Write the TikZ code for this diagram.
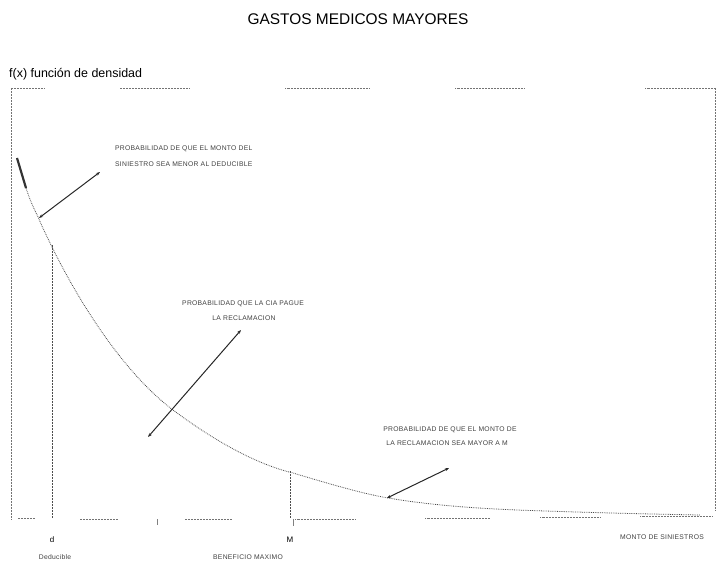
\documentclass[tikz,border=0pt]{standalone}
\usepackage{fontspec}
\setmainfont{Liberation Sans}
\usetikzlibrary{arrows.meta}
\begin{document}
\begin{tikzpicture}[x=1bp,y=-1bp,
  small/.style={font=\fontsize{6.8}{8}\selectfont\addfontfeature{LetterSpace=4}, inner sep=0pt, text=black!75},
  frame/.style={draw=black!55, densely dotted, line width=0.5bp},
  pointer/.style={draw=black!85, line width=1bp, {Stealth[length=4bp,width=3bp]}-{Stealth[length=4bp,width=3bp]}},
  curve/.style={draw=black!70, densely dotted, line width=0.8bp}]
\useasboundingbox (0,0) rectangle (728,561);
% title
\node[font=\fontsize{15.5}{18}\selectfont, inner sep=0pt] (title) at (358,19) {GASTOS MEDICOS MAYORES};
\node[font=\fontsize{12.5}{15}\selectfont, anchor=west, inner sep=0pt] (ylab) at (9,74) {f(x) función de densidad};
% frame
\coordinate (tl) at (11,88);
\coordinate (tr) at (715,88);
\coordinate (br) at (715,510);
\coordinate (bl) at (11,520);
\draw[frame] (11,88) -- (45,88) (120,88) -- (190,88) (285,88) -- (370,88) (455,88) -- (525,88) (645,88) -- (715,88);
\draw[frame] (tr) -- (br);
\draw[frame] (tl) -- (bl);
\draw[frame] (18,518) -- (35,518) (80,519) -- (118,519) (185,519) -- (232,519) (295,519) -- (355,519) (425,518) -- (490,518) (540,517) -- (600,517) (640,516) -- (712,516);
% density curve
\draw[line width=2.2bp, black!80] (17,158) -- (26,188);
\draw[curve] (26,188) .. controls (30,200) .. (38,217)
  .. controls (70,290) and (120,370) .. (173,410)
  .. controls (220,445) and (260,465) .. (293,473)
  .. controls (330,484) and (360,493) .. (388,498)
  .. controls (430,505) and (470,508) .. (517,510)
  .. controls (600,513) and (650,514) .. (700,515);
% vertical lines
\coordinate (dtop) at (52,245);
\coordinate (dbot) at (52,518);
\coordinate (mtop) at (290,471);
\coordinate (mbot) at (290,518);
\draw[frame, draw=black!70] (dtop) -- (dbot);
\draw[frame, draw=black!70] (mtop) -- (mbot);
\draw[black!50, line width=0.5bp] (157,519) -- (157,525) (293,519) -- (293,526);
% pointers
\coordinate (p1a) at (39,218);
\coordinate (p1b) at (100,172);
\coordinate (p2a) at (148,437);
\coordinate (p2b) at (241,330);
\coordinate (p3a) at (387,498);
\coordinate (p3b) at (449,468);
\draw[pointer] (p1a) -- (p1b);
\draw[pointer] (p2a) -- (p2b);
\draw[pointer] (p3a) -- (p3b);
% annotations
\node[small, anchor=west] (t1a) at (115,149) {PROBABILIDAD DE QUE EL MONTO DEL};
\node[small, anchor=west] (t1b) at (115,164) {SINIESTRO SEA MENOR AL DEDUCIBLE};
\node[small] (t2a) at (243,304) {PROBABILIDAD QUE LA CIA PAGUE};
\node[small] (t2b) at (244,318) {LA RECLAMACION};
\node[small] (t3a) at (450,430) {PROBABILIDAD DE QUE EL MONTO DE};
\node[small] (t3b) at (447,443) {LA RECLAMACION SEA MAYOR A M};
% axis labels
\node[font=\fontsize{8}{9}\selectfont, inner sep=0pt] (dlab) at (52,540) {d};
\node[small] (deduc) at (55,557) {Deducible};
\node[font=\fontsize{8}{9}\selectfont, inner sep=0pt] (mlab) at (290,540) {M};
\node[small] (benef) at (248,557) {BENEFICIO MAXIMO};
\node[small] (monto) at (662,537) {MONTO DE SINIESTROS};
\end{tikzpicture}
\end{document}
